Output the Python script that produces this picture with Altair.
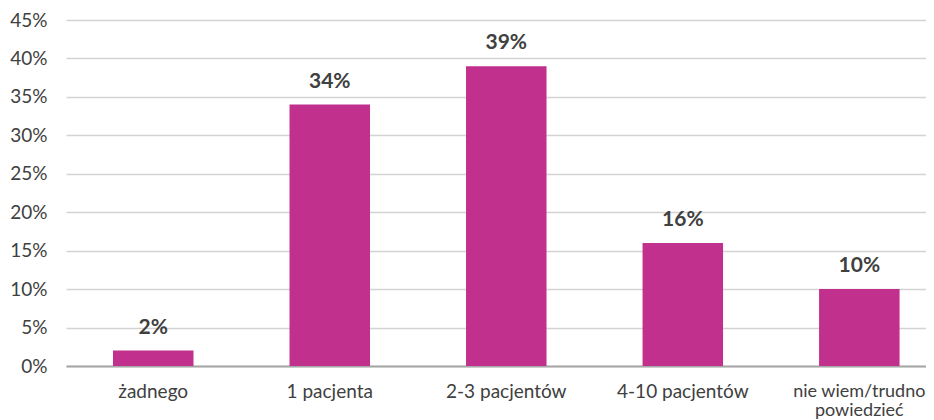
import altair as alt
import pandas as pd

categories = ["żadnego", "1 pacjenta", "2-3 pacjentów", "4-10 pacjentów", "nie wiem/trudno\npowiedzieć"]
values = [2, 34, 39, 16, 10]
tick_values = [0, 5, 10, 15, 20, 25, 30, 35, 40, 45]

df = pd.DataFrame({"cat": categories, "val": values})
df["lab"] = df["val"].astype(str) + "%"

x = alt.X(
    "cat:N",
    sort=categories,
    title=None,
    scale=alt.Scale(paddingInner=0.544, paddingOuter=0.208, align=0.64),
    axis=alt.Axis(
        labelAngle=0,
        labelExpr="split(datum.value, '\\n')",
        labelFont="Lato",
        labelFontSize={"condition": {"test": "indexof(datum.value, 'nie wiem') >= 0", "value": 18}, "value": 19},
        labelColor="#404040",
        labelPadding=16,
        labelLineHeight=19.5,
        labelOverlap=False,
        labelBound=False,
        ticks=False,
        domainColor="#A6A6A6",
        domainWidth=2,
        grid=False,
    ),
)

y = alt.Y(
    "val:Q",
    title=None,
    scale=alt.Scale(domain=[0, 45], nice=False),
    axis=alt.Axis(
        values=tick_values,
        labelExpr="datum.value + '%'",
        labelFont="Lato",
        labelFontSize=19,
        labelColor="#404040",
        labelPadding=19,
        labelOverlap=False,
        labelBound=False,
        ticks=False,
        domain=False,
        gridColor="#D3D3D3",
        gridWidth=1.5,
    ),
)

base = alt.Chart(df).encode(x=x, y=y)
bars = base.mark_bar(color="#C0308C")
text = base.mark_text(
    font="Lato", fontSize=21, fontWeight="bold", color="#404040", baseline="bottom", dy=-13
).encode(text="lab:N")

chart = (
    alt.layer(bars, text)
    .properties(
        width=860,
        height=346,
        autosize=alt.AutoSizeParams(type="none"),
        padding={"left": 58, "top": 12, "right": 0, "bottom": 54},
        background="white",
    )
    .configure_view(strokeWidth=0)
)

chart.save("out.html", embed_options={"renderer": "svg", "actions": False})
